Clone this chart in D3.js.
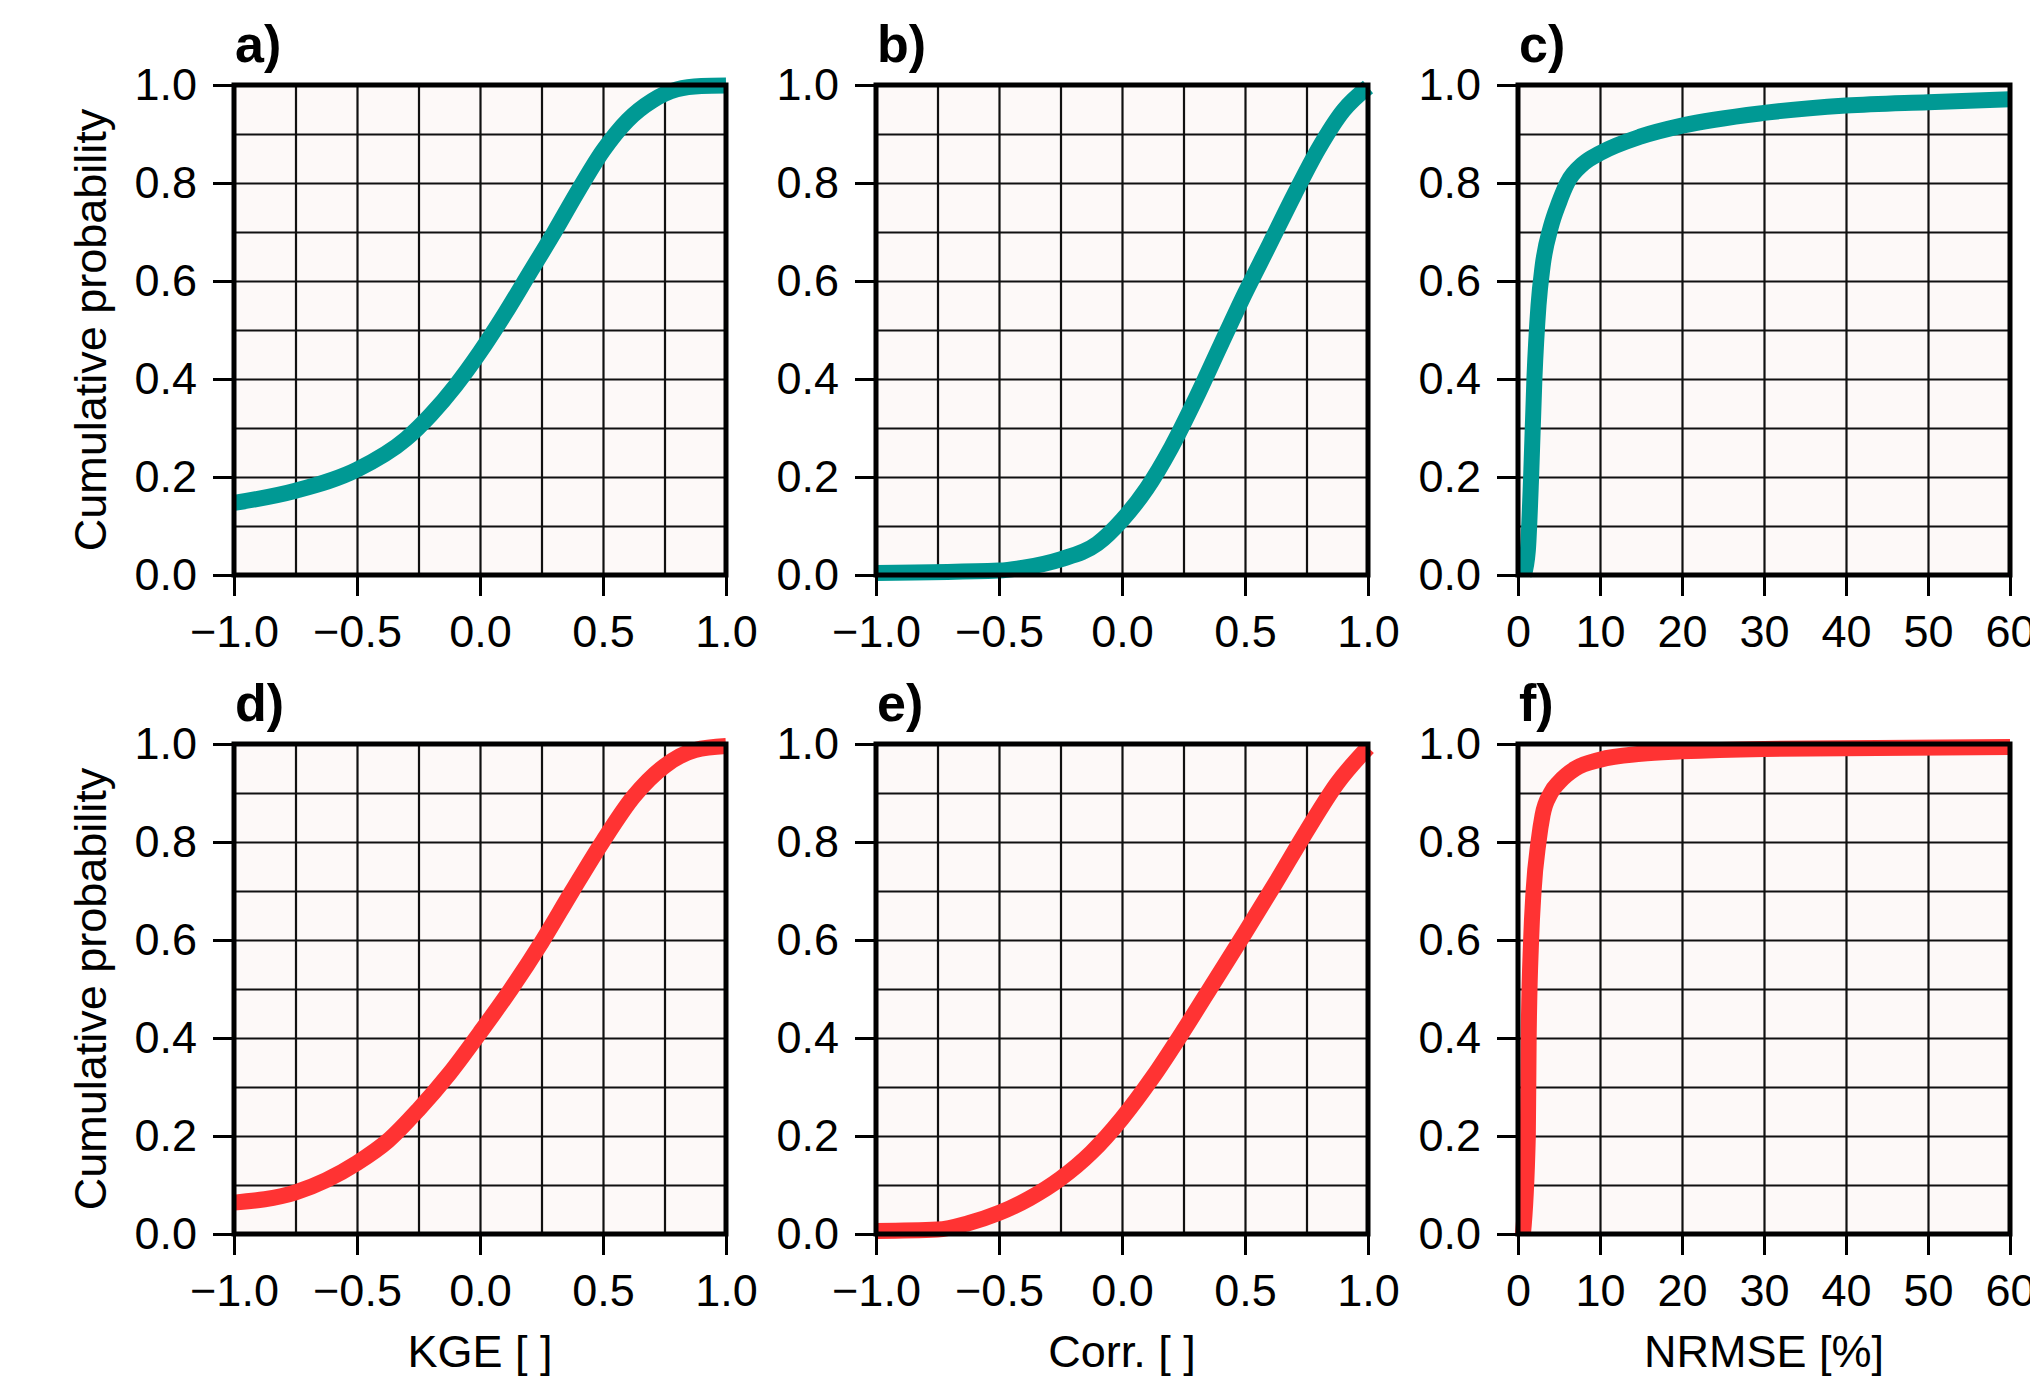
<!DOCTYPE html>
<html>
<head>
<meta charset="utf-8">
<script src="https://cdn.jsdelivr.net/npm/d3@7"></script>
<style>
  body { margin: 0; background: #fff; }
  text { font-family: "Liberation Sans", Arial, Helvetica, sans-serif; fill: #000; }
  .tick text { font-size: 45px; }
  .panel-label { font-size: 52px; font-weight: bold; }
  .axis-title { font-size: 45px; }
</style>
</head>
<body>
<svg id="chart"></svg>
<script>
// Panel labels and axis titles
const panelLabels = ['a)', 'b)', 'c)', 'd)', 'e)', 'f)'];
const xTitles = ['KGE [ ]', 'Corr. [ ]', 'NRMSE [%]'];
const yTitle = 'Cumulative probability';

// Tick values
const probTicks = [0, 0.2, 0.4, 0.6, 0.8, 1.0];
const probGrid = [0.1, 0.2, 0.3, 0.4, 0.5, 0.6, 0.7, 0.8, 0.9];
const skillTicks = [-1, -0.5, 0, 0.5, 1];
const skillGrid = [-0.75, -0.5, -0.25, 0, 0.25, 0.5, 0.75];
const nrmseTicks = [0, 10, 20, 30, 40, 50, 60];
const nrmseGrid = [10, 20, 30, 40, 50];

// CDF curves: [metric value, cumulative probability]
const kgeTop = [[-1, 0.147], [-0.75, 0.172], [-0.5, 0.215], [-0.3, 0.278], [-0.2, 0.327],
  [-0.1, 0.386], [0, 0.455], [0.1, 0.532], [0.2, 0.615], [0.3, 0.698], [0.4, 0.785],
  [0.5, 0.866], [0.6, 0.928], [0.7, 0.968], [0.8, 0.991], [0.9, 0.998], [1, 0.999]];
const corrTop = [[-1, 0.004], [-0.5, 0.009], [-0.4, 0.015], [-0.25, 0.032], [-0.1, 0.064],
  [0, 0.112], [0.1, 0.176], [0.2, 0.26], [0.3, 0.36], [0.4, 0.468], [0.5, 0.575],
  [0.6, 0.675], [0.7, 0.776], [0.8, 0.871], [0.9, 0.948], [1, 0.996]];
const nrmseTop = [[0.7, 0.0], [1.2, 0.05], [1.6, 0.2], [2.0, 0.4], [2.5, 0.55], [3.0, 0.63],
  [4, 0.71], [5, 0.76], [6, 0.8], [8, 0.84], [10, 0.861], [15, 0.895], [20, 0.917],
  [30, 0.943], [40, 0.958], [50, 0.965], [60, 0.971]];

const kgeBottom = [[-1, 0.064], [-0.75, 0.085], [-0.5, 0.145], [-0.375, 0.19], [-0.25, 0.254],
  [-0.125, 0.327], [0, 0.411], [0.125, 0.499], [0.25, 0.595], [0.375, 0.7], [0.5, 0.802],
  [0.625, 0.893], [0.75, 0.955], [0.875, 0.988], [1, 0.996]];
const corrBottom = [[-1, 0.006], [-0.75, 0.009], [-0.625, 0.022], [-0.5, 0.043], [-0.375, 0.073],
  [-0.25, 0.113], [-0.125, 0.166], [0, 0.236], [0.125, 0.32], [0.25, 0.415], [0.375, 0.515],
  [0.5, 0.615], [0.625, 0.717], [0.75, 0.822], [0.875, 0.92], [1, 0.993]];
const nrmseBottom = [[0.6, 0.0], [1.2, 0.2], [1.3, 0.4], [1.6, 0.6], [1.9, 0.7], [2.5, 0.8],
  [3, 0.855], [4, 0.9], [5, 0.922], [7, 0.95], [10, 0.968], [15, 0.98], [20, 0.985],
  [30, 0.99], [60, 0.994]];

const seriesColors = ['#009994', '#ff3333'];

const width = 2030, height = 1376;
const plotW = 492, plotH = 490;
const colX = [234, 876, 1518];
const rowY = [85, 744];

const svg = d3.select('#chart')
  .attr('width', width)
  .attr('height', height);

const panels = [
  { data: kgeTop, kind: 'skill', row: 0, col: 0 },
  { data: corrTop, kind: 'skill', row: 0, col: 1 },
  { data: nrmseTop, kind: 'nrmse', row: 0, col: 2 },
  { data: kgeBottom, kind: 'skill', row: 1, col: 0 },
  { data: corrBottom, kind: 'skill', row: 1, col: 1 },
  { data: nrmseBottom, kind: 'nrmse', row: 1, col: 2 }
];

panels.forEach((p, i) => {
  const g = svg.append('g')
    .attr('transform', `translate(${colX[p.col]},${rowY[p.row]})`);

  const xScale = d3.scaleLinear()
    .domain(p.kind === 'skill' ? [-1, 1] : [0, 60])
    .range([0, plotW]);
  const yScale = d3.scaleLinear()
    .domain([0, 1])
    .range([plotH, 0]);

  // background
  g.append('rect')
    .attr('width', plotW)
    .attr('height', plotH)
    .attr('fill', '#fdf9f8');

  // gridlines
  g.append('g')
    .attr('transform', `translate(0,${plotH})`)
    .call(d3.axisBottom(xScale)
      .tickValues(p.kind === 'skill' ? skillGrid : nrmseGrid)
      .tickSize(-plotH).tickFormat(''))
    .call(a => a.select('.domain').remove())
    .call(a => a.selectAll('line').attr('stroke', '#111').attr('stroke-width', 2.2));

  g.append('g')
    .call(d3.axisLeft(yScale)
      .tickValues(probGrid)
      .tickSize(-plotW).tickFormat(''))
    .call(a => a.select('.domain').remove())
    .call(a => a.selectAll('line').attr('stroke', '#111').attr('stroke-width', 2.2));

  // CDF curve
  const line = d3.line()
    .x(d => xScale(d[0]))
    .y(d => yScale(d[1]))
    .curve(d3.curveMonotoneX);

  g.append('path')
    .datum(p.data)
    .attr('fill', 'none')
    .attr('stroke', seriesColors[p.row])
    .attr('stroke-width', 16)
    .attr('d', line);

  // frame
  g.append('rect')
    .attr('width', plotW)
    .attr('height', plotH)
    .attr('fill', 'none')
    .attr('stroke', '#000')
    .attr('stroke-width', 5);

  // labelled axes
  const xAxis = d3.axisBottom(xScale)
    .tickValues(p.kind === 'skill' ? skillTicks : nrmseTicks)
    .tickSize(21)
    .tickPadding(19)
    .tickFormat(p.kind === 'skill' ? d3.format('.1f') : d3.format('d'));

  g.append('g')
    .attr('transform', `translate(0,${plotH})`)
    .call(xAxis)
    .call(a => a.select('.domain').remove())
    .call(a => a.selectAll('line').attr('stroke', '#000').attr('stroke-width', 3))
    .call(a => a.selectAll('text').attr('font-family', null).attr('font-size', null));

  const yAxis = d3.axisLeft(yScale)
    .tickValues(probTicks)
    .tickSize(21)
    .tickPadding(16)
    .tickFormat(d3.format('.1f'));

  g.append('g')
    .call(yAxis)
    .call(a => a.select('.domain').remove())
    .call(a => a.selectAll('line').attr('stroke', '#000').attr('stroke-width', 3))
    .call(a => a.selectAll('text').attr('font-family', null).attr('font-size', null));

  // panel label
  g.append('text')
    .attr('class', 'panel-label')
    .attr('x', 1)
    .attr('y', -23)
    .text(panelLabels[i]);

  if (p.row === 1) {
    g.append('text')
      .attr('class', 'axis-title')
      .attr('x', plotW / 2)
      .attr('y', plotH + 133)
      .attr('text-anchor', 'middle')
      .text(xTitles[p.col]);
  }

  if (p.col === 0) {
    g.append('text')
      .attr('class', 'axis-title')
      .attr('transform', `translate(${-128},${plotH / 2}) rotate(-90)`)
      .attr('text-anchor', 'middle')
      .text(yTitle);
  }
});
</script>
</body>
</html>
